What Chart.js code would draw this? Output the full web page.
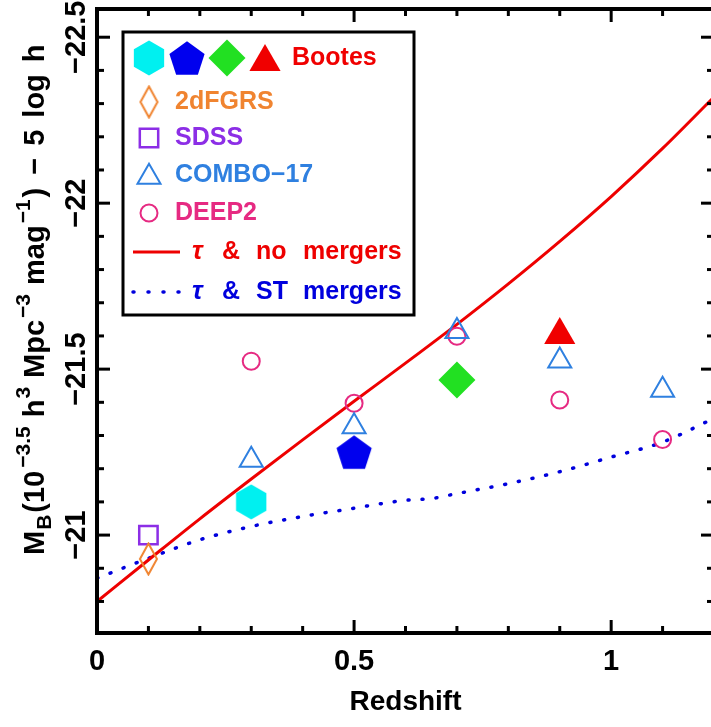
<!DOCTYPE html>
<html>
<head>
<meta charset="utf-8">
<script src="https://cdn.jsdelivr.net/npm/chart.js@4.4.1/dist/chart.umd.min.js"></script>
<style>
  html, body { margin: 0; padding: 0; background: #fff; overflow: hidden; }
  #chart { display: block; }
</style>
</head>
<body>
<canvas id="chart" width="720" height="727"></canvas>
<script>
// Bootes (one marker per redshift bin)
const bootesZ = [0.3, 0.5, 0.7, 0.9];
const bootesMag = [-21.10, -21.25, -21.467, -21.603];
// literature points
const twodfZ = [0.1];
const twodfMag = [-20.928];
const sdssZ = [0.1];
const sdssMag = [-21.0];
const comboZ = [0.3, 0.5, 0.7, 0.9, 1.1];
const comboMag = [-21.226, -21.327, -21.614, -21.525, -21.437];
const deep2Z = [0.3, 0.5, 0.7, 0.9, 1.1];
const deep2Mag = [-21.524, -21.397, -21.599, -21.407, -21.288];
// models
const noMergZ = [0, 0.1, 0.2, 0.3, 0.4, 0.5, 0.6, 0.7, 0.8, 0.9, 1.0, 1.1, 1.2];
const noMergMag = [-20.80, -20.925, -21.049, -21.169, -21.287, -21.403, -21.518, -21.635, -21.757, -21.885, -22.02, -22.165, -22.32];
const stMergZ = [0, 0.1, 0.2, 0.3, 0.4, 0.5, 0.55, 0.6, 0.65, 0.7, 0.8, 0.9, 1.0, 1.1, 1.2];
const stMergMag = [-20.870, -20.930, -20.986, -21.026, -21.056, -21.081, -21.094, -21.105, -21.110, -21.125, -21.155, -21.191, -21.235, -21.280, -21.352];
// axes
const xTickValues = [0, 0.5, 1];
const yTickValues = [-22.5, -22, -21.5, -21];

const FONT = '"Liberation Sans", Arial, Helvetica, sans-serif';
const CYAN = '#00f0f0', BLUE = '#0000ee', GREEN = '#22e022', RED = '#f00000';
const ORANGE = '#f08430', PURPLE = '#8c2ee6', COMBO = '#2f80e0', PINK = '#e62a82';
const LINE_RED = '#ee0000', LINE_BLUE = '#0000dd';

const zip = (xs, ys) => xs.map((x, i) => ({ x: x, y: ys[i] }));

function makeMarker(w, h, draw) {
  const c = document.createElement('canvas');
  c.width = w; c.height = h;
  draw(c.getContext('2d'));
  return c;
}
function polygon(g, cx, cy, r, n, start) {
  g.beginPath();
  for (let i = 0; i < n; i++) {
    const a = start + i * 2 * Math.PI / n;
    const px = cx + r * Math.cos(a), py = cy + r * Math.sin(a);
    if (i === 0) g.moveTo(px, py); else g.lineTo(px, py);
  }
  g.closePath();
}
const hexMarker = makeMarker(32, 36, g => {
  g.fillStyle = CYAN; polygon(g, 16, 18, 17.5, 6, -Math.PI / 2); g.fill();
});
const pentMarker = makeMarker(38, 36, g => {
  g.fillStyle = BLUE; polygon(g, 19, 19.8, 18.5, 5, -Math.PI / 2); g.fill();
});
const tallDiamond = makeMarker(21, 34, g => {
  g.strokeStyle = ORANGE; g.lineWidth = 2;
  g.beginPath();
  g.moveTo(10.5, 1.5); g.lineTo(19, 17); g.lineTo(10.5, 32.5); g.lineTo(2, 17);
  g.closePath(); g.stroke();
});

const datasets = [
  { label: 'Bootes', data: zip(bootesZ, bootesMag),
    pointStyle: [hexMarker, pentMarker, 'rectRot', 'triangle'],
    pointRadius: [17, 18, 18.5, 18],
    pointBackgroundColor: [CYAN, BLUE, GREEN, RED],
    pointBorderColor: [CYAN, BLUE, GREEN, RED], pointBorderWidth: 0 },
  { label: '2dFGRS', data: zip(twodfZ, twodfMag), pointStyle: tallDiamond, pointRadius: 10,
    pointBackgroundColor: 'rgba(0,0,0,0)', pointBorderColor: ORANGE },
  { label: 'SDSS', data: zip(sdssZ, sdssMag), pointStyle: 'rect', pointRadius: 13,
    pointBackgroundColor: 'rgba(0,0,0,0)', pointBorderColor: PURPLE, pointBorderWidth: 2.5 },
  { label: 'COMBO-17', data: zip(comboZ, comboMag), pointStyle: 'triangle', pointRadius: 13.3,
    pointBackgroundColor: 'rgba(0,0,0,0)', pointBorderColor: COMBO, pointBorderWidth: 2 },
  { label: 'DEEP2', data: zip(deep2Z, deep2Mag), pointStyle: 'circle', pointRadius: 8.5,
    pointBackgroundColor: 'rgba(0,0,0,0)', pointBorderColor: PINK, pointBorderWidth: 2 },
  { label: 'τ & no mergers', data: zip(noMergZ, noMergMag), showLine: true, pointRadius: 0,
    borderColor: LINE_RED, borderWidth: 3, cubicInterpolationMode: 'monotone' },
  { label: 'τ & ST mergers', data: zip(stMergZ, stMergMag), showLine: true, pointRadius: 0,
    borderColor: LINE_BLUE, borderWidth: 3.5, borderDash: [1, 13], borderCapStyle: 'round',
    cubicInterpolationMode: 'monotone' }
];

function strokeLine(ctx, x1, y1, x2, y2) {
  ctx.beginPath(); ctx.moveTo(x1, y1); ctx.lineTo(x2, y2); ctx.stroke();
}

// box with inward ticks on all four sides
const frameTicks = {
  id: 'frameTicks',
  afterDatasetsDraw(chart) {
    const { ctx, chartArea: a, scales: { x, y } } = chart;
    ctx.save();
    ctx.strokeStyle = '#000';
    ctx.lineWidth = 3;
    for (let i = 0; i <= 12; i++) {
      const px = x.getPixelForValue(i / 10);
      const len = i % 5 === 0 ? 13 : 7;
      strokeLine(ctx, px, a.bottom, px, a.bottom - len);
      strokeLine(ctx, px, a.top, px, a.top + len);
    }
    for (let i = 0; i <= 17; i++) {
      const py = y.getPixelForValue(-22.5 + i / 10);
      const len = i % 5 === 0 ? 13 : 7;
      strokeLine(ctx, a.left, py, a.left + len, py);
      strokeLine(ctx, a.right, py, a.right - len, py);
    }
    ctx.lineWidth = 4;
    ctx.strokeRect(a.left, a.top, a.right - a.left, a.bottom - a.top);
    ctx.restore();
  }
};

// rotated y title with sub/superscripts: [text, font, baseline shift, gap before]
const yTitle = {
  id: 'yTitle',
  afterDraw(chart) {
    const ctx = chart.ctx;
    const big = 'bold 29px ' + FONT, small = 'bold 21px ' + FONT;
    const parts = [
      ['M', big, 0, 0], ['B', small, 7, 1], ['(10', big, 0, 2], ['\u22123.5', small, -14, 3],
      ['h', big, 0, 9], ['3', small, -14, 1], ['Mpc', big, 0, 9], ['\u22123', small, -14, 2],
      ['mag', big, 0, 9], ['\u22121', small, -14, 2], [')', big, 0, 2],
      ['\u2212', big, 0, 13], ['5', big, 0, 12], ['log', big, 0, 12], ['h', big, 0, 12]
    ];
    ctx.save();
    ctx.translate(44, 555);
    ctx.rotate(-Math.PI / 2);
    ctx.fillStyle = '#000';
    ctx.textBaseline = 'alphabetic';
    let cx = 0;
    parts.forEach(([t, f, dy, gap]) => {
      ctx.font = f;
      cx += gap;
      ctx.fillText(t, cx, dy);
      cx += ctx.measureText(t).width;
    });
    ctx.restore();
  }
};

// boxed legend in the upper left
const boxLegend = {
  id: 'boxLegend',
  afterDraw(chart) {
    const ctx = chart.ctx;
    const draw = Chart.helpers.drawPoint;
    ctx.save();
    ctx.fillStyle = '#fff';
    ctx.fillRect(123, 32, 291, 283);
    ctx.strokeStyle = '#000';
    ctx.lineWidth = 3;
    ctx.strokeRect(123, 32, 291, 283);

    const b = datasets[0];
    const rowX = [149, 187, 227, 265];
    rowX.forEach((lx, i) => {
      ctx.fillStyle = b.pointBackgroundColor[i];
      ctx.strokeStyle = b.pointBorderColor[i];
      const ly = b.pointStyle[i] === 'triangle' ? 62 : 58;
      draw(ctx, { pointStyle: b.pointStyle[i], radius: b.pointRadius[i], borderWidth: 0, rotation: 0 }, lx, ly);
    });

    const open = [[datasets[1], 102], [datasets[2], 138], [datasets[3], 177], [datasets[4], 213]];
    open.forEach(([d, ly]) => {
      ctx.fillStyle = 'rgba(0,0,0,0)';
      ctx.strokeStyle = d.pointBorderColor;
      ctx.lineWidth = d.pointBorderWidth || 2;
      draw(ctx, { pointStyle: d.pointStyle, radius: d.pointRadius, borderWidth: d.pointBorderWidth || 0, rotation: 0 }, 149, ly);
    });

    ctx.lineWidth = 3;
    ctx.strokeStyle = LINE_RED;
    strokeLine(ctx, 133, 252, 180, 252);
    ctx.strokeStyle = LINE_BLUE;
    ctx.lineWidth = 3.5;
    ctx.lineCap = 'round';
    ctx.setLineDash([1, 14]);
    strokeLine(ctx, 133, 292, 180, 292);
    ctx.setLineDash([]);

    ctx.textBaseline = 'middle';
    ctx.font = 'bold 25px ' + FONT;
    const texts = [
      ['Bootes', 292, 58, RED], ['2dFGRS', 175, 102, ORANGE], ['SDSS', 175, 138, PURPLE],
      ['COMBO\u221217', 175, 175, COMBO], ['DEEP2', 175, 213, PINK]
    ];
    texts.forEach(([t, tx, ty, c]) => { ctx.fillStyle = c; ctx.fillText(t, tx, ty); });

    // model rows: words spaced out like the original
    const modelRows = [[datasets[5].label, 252, LINE_RED], [datasets[6].label, 292, LINE_BLUE]];
    const wordX = [192, 222, 256, 303];
    modelRows.forEach(([t, ty, c]) => {
      ctx.fillStyle = c;
      t.split(' ').forEach((w, i) => {
        ctx.font = (i === 0 ? 'italic bold 26px ' : 'bold 25px ') + FONT;
        ctx.fillText(w, wordX[i], ty);
      });
    });
    ctx.restore();
  }
};

new Chart(document.getElementById('chart'), {
  type: 'scatter',
  data: { datasets: datasets },
  plugins: [frameTicks, yTitle, boxLegend],
  options: {
    responsive: false,
    animation: false,
    layout: { autoPadding: false, padding: { top: 9, right: 6, left: 0, bottom: 0 } },
    plugins: { legend: { display: false }, tooltip: { enabled: false } },
    scales: {
      x: {
        type: 'linear', min: 0, max: 1.2,
        afterBuildTicks: s => { s.ticks = xTickValues.map(v => ({ value: v })); },
        afterFit: s => { s.height = 94; s.paddingLeft = 0; s.paddingRight = 0; },
        grid: { display: false, drawTicks: false },
        border: { display: false },
        ticks: { color: '#000', autoSkip: false, maxRotation: 0, padding: 12,
          font: { family: FONT, size: 29, weight: 'bold' }, callback: v => String(v) },
        title: { display: true, text: 'Redshift', color: '#000',
          font: { family: FONT, size: 28, weight: 'bold' }, padding: { top: 0, bottom: 8 } }
      },
      y: {
        type: 'linear', min: -22.585, max: -20.705, reverse: true,
        afterBuildTicks: s => { s.ticks = yTickValues.map(v => ({ value: v })); },
        afterFit: s => { s.width = 97; s.paddingTop = 0; s.paddingBottom = 0; },
        grid: { display: false, drawTicks: false },
        border: { display: false },
        ticks: { color: '#000', autoSkip: false, minRotation: 90, maxRotation: 90,
          crossAlign: 'center', padding: -17,
          font: { family: FONT, size: 29, weight: 'bold' },
          callback: v => (v < 0 ? '\u2212' : '') + Math.abs(v) }
      }
    }
  }
});
</script>
</body>
</html>
